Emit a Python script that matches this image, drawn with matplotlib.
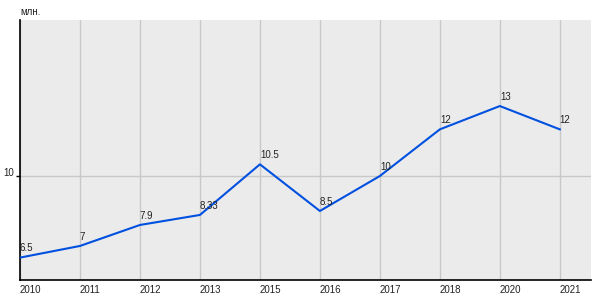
import matplotlib.pyplot as plt

# Data
years = ["2010", "2011", "2012", "2013", "2015", "2016", "2017", "2018", "2020", "2021"]
values = [6.5, 7, 7.9, 8.33, 10.5, 8.5, 10, 12, 13, 12]
labels = ["6.5", "7", "7.9", "8.33", "10.5", "8.5", "10", "12", "13", "12"]

plt.rcParams['font.family'] = ['Liberation Sans', 'DejaVu Sans']

fig = plt.figure(figsize=(6, 3), dpi=100)
ax = fig.add_axes([20 / 600, 20 / 300, 571 / 600, 260 / 300])
ax.set_facecolor('#ebebeb')

x = list(range(len(years)))
ax.plot(x, values, color='#0050e0', linewidth=1.5, zorder=3)

for xi, v, lab in zip(x, values, labels):
    ax.annotate(lab, (xi, v), xytext=(0, 4.5), textcoords='offset points',
                ha='left', va='baseline', fontsize=7, color='#222222', zorder=4)

ax.set_xlim(0, 9.52)
ax.set_ylim(5.54, 16.69)

ax.set_xticks(x)
ax.set_xticklabels(years, ha='left', fontsize=7, color='#222222')
ax.tick_params(axis='x', length=0, pad=3.5)
ax.set_yticks([10])
ax.set_yticklabels(["10"], fontsize=7, color='#222222', va='baseline')
ax.tick_params(axis='y', length=3, width=1, pad=1)

ax.grid(True, color='#c8c8c8', linewidth=1)
ax.set_axisbelow(True)

for s in ['top', 'right']:
    ax.spines[s].set_visible(False)
ax.spines['left'].set_linewidth(1.2)
ax.spines['bottom'].set_linewidth(1.2)

fig.text(20 / 600, 1 - 12 / 300, "млн.", fontsize=7, color='#222222', va='center')

plt.savefig('out.png', dpi=100)
